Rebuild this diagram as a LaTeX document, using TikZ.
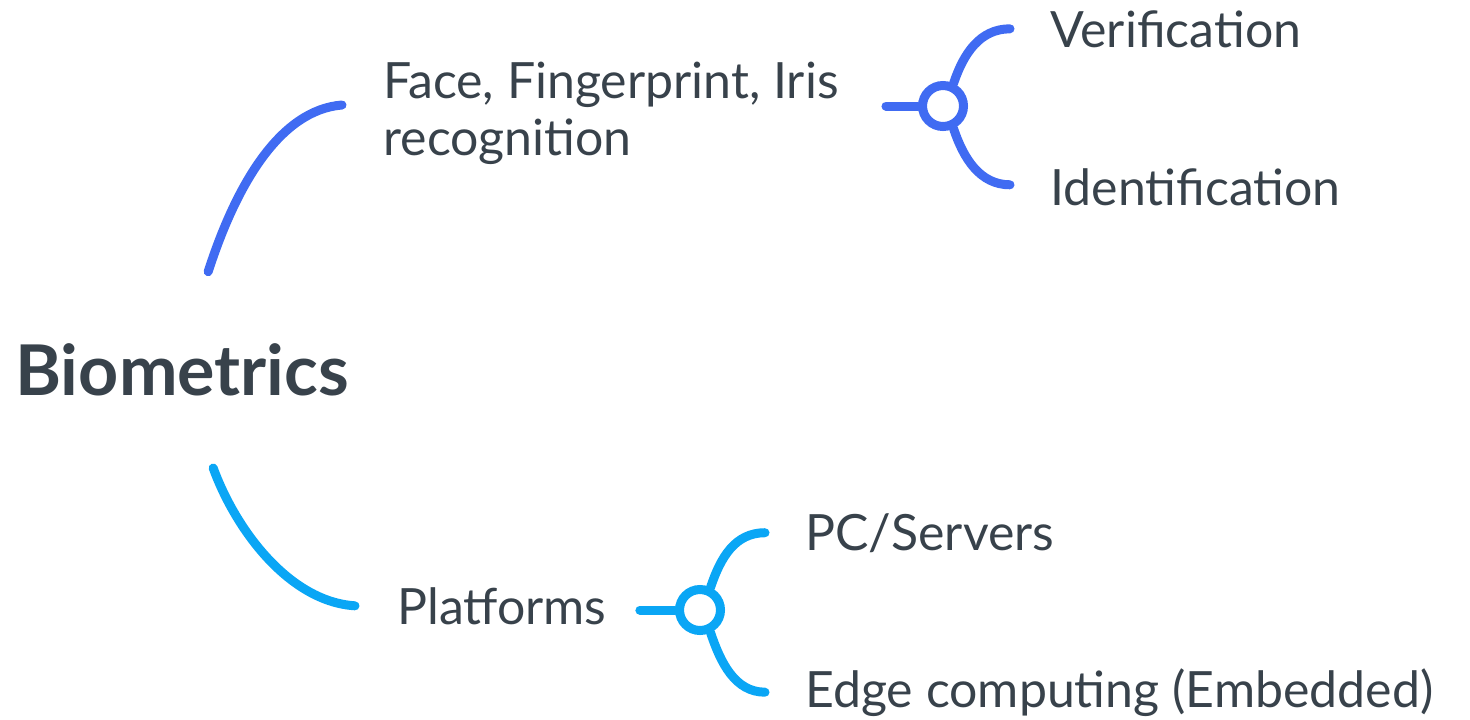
\documentclass[tikz,border=0pt]{standalone}
\usepackage{fontspec}
\setmainfont{Lato}
\usetikzlibrary{calc}
\usetikzlibrary{positioning}
\definecolor{topblue}{HTML}{406BF2}
\definecolor{lowblue}{HTML}{0AA6F5}
\definecolor{inkgray}{HTML}{38424B}

\begin{document}
\begin{tikzpicture}[
            x=0.5pt, y=-0.5pt,
        leaf/.style={anchor=base west,inner sep=0pt,text=inkgray,align=left,font=\fontsize{25}{28.5}\selectfont},
        branch/.style={line width=4.5pt,line cap=round},
        hub/.style={circle,fill=white,line width=4.5pt,minimum size=20.5pt,inner sep=0pt},
        ]
        \useasboundingbox (0,0) rectangle (1470,719);

        \node[leaf,font=\fontsize{35}{40}\selectfont\bfseries](root) at (15,395){Biometrics};

        % base of a two-line node sits on its last line
        \node[leaf](face) at (383,155){Face, Fingerprint, Iris\\recognition};
        \node[leaf](verif) at (1050,47){Verification};
        \node[leaf](ident) at (1050,205){Identification};

        \node[leaf](platf) at (397,624){Platforms};
        \node[leaf](pcserv) at (805,550){PC/Servers};
        \node[leaf](edge) at (805,707){Edge computing (Embedded)};

        \node[hub,draw=topblue](hubtop) at (943,106){};
        \node[hub,draw=lowblue](hublow) at (700,610){};

        % upper branch
        \draw[branch,topblue] ($(root.north)+(26,-71)$) .. controls +(28,-87) and +(-62,5) .. ($(face.west |- hubtop)+(-41,-1)$);
        \draw[branch,topblue] ($(face.east |- hubtop)+(47,0)$) -- (hubtop.west);
        \draw[branch,topblue] (hubtop.65) .. controls +(10,-30) and +(-30,0) .. ($(verif.west)+(-40,0)$);
        \draw[branch,topblue] (hubtop.-65) .. controls +(10,30) and +(-30,0) .. ($(ident.west)+(-40,-2)$);

        % lower branch
        \draw[branch,lowblue] ($(root.south)+(31,72)$) .. controls +(23,63) and +(-65,-4) .. ($(platf.west)+(-42,0)$);
        \draw[branch,lowblue] ($(platf.east |- hublow)+(33,0)$) -- (hublow.west);
        \draw[branch,lowblue] (hublow.65) .. controls +(10,-30) and +(-30,0) .. ($(pcserv.west)+(-40,0)$);
        \draw[branch,lowblue] (hublow.-65) .. controls +(10,30) and +(-30,0) .. ($(edge.west)+(-40,0)$);

        \end{tikzpicture}
\end{document}
